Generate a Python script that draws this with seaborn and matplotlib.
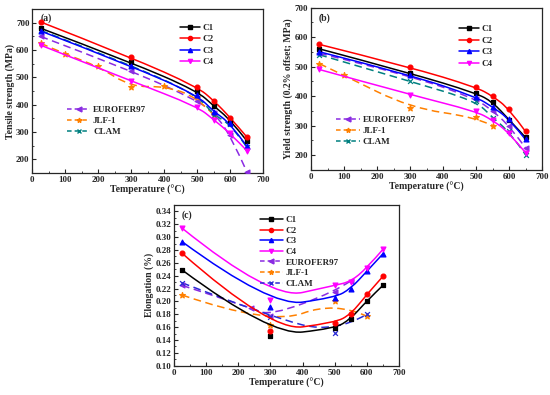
import numpy as np
import matplotlib
matplotlib.use("Agg")
import matplotlib.pyplot as plt
import seaborn as sns
from matplotlib.lines import Line2D
from matplotlib.path import Path
from matplotlib.patches import PathPatch
from matplotlib.ticker import MultipleLocator, FormatStrFormatter

# ---------------- data ----------------
T6 = [25, 300, 500, 550, 600, 650]

# (a) tensile strength (MPa)
ts_C1 = [680, 555, 450, 395, 345, 268]
ts_C2 = [703, 573, 465, 415, 353, 282]
ts_C3 = [670, 542, 435, 375, 332, 248]
ts_C4 = [618, 487, 393, 345, 295, 232]
ts_EUROFER97_T = [25, 300, 500, 550, 600, 650]
ts_EUROFER97 = [650, 525, 415, 370, 290, 155]
ts_JLF1_T = [25, 100, 200, 300, 400, 500, 550]
ts_JLF1 = [625, 585, 540, 465, 468, 428, 362]
ts_CLAM_T = [25, 300, 500, 550, 600, 650]
ts_CLAM = [672, 545, 435, 362, 330, 245]

# (b) yield strength (MPa)
ys_C1 = [560, 478, 410, 380, 320, 260]
ys_C2 = [575, 498, 430, 400, 357, 280]
ys_C3 = [550, 472, 397, 363, 323, 253]
ys_C4 = [490, 405, 348, 318, 276, 208]
ys_EUROFER97_T = [25, 300, 500, 550, 600, 650]
ys_EUROFER97 = [545, 470, 390, 350, 300, 225]
ys_JLF1_T = [25, 100, 300, 500, 550]
ys_JLF1 = [510, 470, 360, 328, 300]
ys_CLAM_T = [25, 300, 500, 550, 600, 650]
ys_CLAM = [540, 450, 383, 327, 280, 202]

# (c) elongation
el_C1 = [0.249, 0.147, 0.158, 0.173, 0.201, 0.225]
el_C2 = [0.275, 0.154, 0.167, 0.180, 0.211, 0.239]
el_C3 = [0.293, 0.192, 0.206, 0.220, 0.247, 0.274]
el_C4 = [0.314, 0.203, 0.225, 0.231, 0.252, 0.281]
el_EUROFER97_T = [25, 240, 300, 500, 550]
el_EUROFER97 = [0.225, 0.190, 0.178, 0.215, 0.232]
el_JLF1_T = [25, 300, 500, 600]
el_JLF1 = [0.210, 0.163, 0.200, 0.177]
el_CLAM_T = [25, 300, 500, 600]
el_CLAM = [0.229, 0.176, 0.151, 0.180]

names_C = ["C1", "C2", "C3", "C4"]
names_ref = ["EUROFER97", "JLF-1", "CLAM"]

# ---------------- style ----------------
sns.set_style("ticks")
plt.rcParams["font.family"] = ["Liberation Serif", "DejaVu Serif"]
plt.rcParams["font.weight"] = "bold"
plt.rcParams["axes.labelweight"] = "bold"
plt.rcParams["axes.linewidth"] = 0.9

col = {"C1": "#000000", "C2": "#ff0000", "C3": "#0000ff", "C4": "#ff00ff",
       "EUROFER97": "#8a2be2", "JLF-1": "#ff8000", "CLAM": "#008080"}
mk = {"C1": "s", "C2": "o", "C3": "^", "C4": "v",
      "EUROFER97": "<", "JLF-1": "*", "CLAM": "x"}

fig = plt.figure(figsize=(5.5, 3.95), dpi=100)
axA = fig.add_axes([0.0587, 0.562, 0.420, 0.415])
axB = fig.add_axes([0.5655, 0.570, 0.420, 0.411])
axC = fig.add_axes([0.3164, 0.074, 0.409, 0.407])


def draw(ax, x, y, name, ls, color=None, z=2):
    """Markers at the data points (seaborn) + B-spline connection (data used as control points)."""
    c = color or col[name]
    m = mk[name]
    pts = np.column_stack([np.asarray(x, float), np.asarray(y, float)])
    verts = [pts[0]]
    codes = [Path.MOVETO]
    n = len(pts)
    for i in range(1, n - 1):
        end = pts[-1] if i == n - 2 else (pts[i] + pts[i + 1]) / 2
        verts += [pts[i], end]
        codes += [Path.CURVE3, Path.CURVE3]
    linestyle = (0, (5, 3)) if ls == "--" else "-"
    ax.add_patch(PathPatch(Path(verts, codes), fill=False, edgecolor=c, lw=1.1,
                           linestyle=linestyle, zorder=z, capstyle="butt"))
    s = 18 if m == "*" else 12
    sns.scatterplot(x=pts[:, 0], y=pts[:, 1], ax=ax, color=c, marker=m, s=s,
                    edgecolor=c, linewidth=0.9, zorder=z + 1, legend=False)


def handle(name, ls, color=None):
    c = color or col[name]
    if ls == "--":
        return Line2D([], [], color=c, lw=1.1, ls="--", dashes=(3, 2), marker=mk[name], ms=3.5)
    return Line2D([], [], color=c, lw=1.1, ls="-", marker=mk[name], ms=3)


def style_axis(ax, ylim, ymaj, ymin, fmt=None):
    ax.set_xlim(0, 700)
    ax.set_ylim(*ylim)
    ax.xaxis.set_major_locator(MultipleLocator(100))
    ax.xaxis.set_minor_locator(MultipleLocator(50))
    ax.yaxis.set_major_locator(MultipleLocator(ymaj))
    ax.yaxis.set_minor_locator(MultipleLocator(ymin))
    if fmt:
        ax.yaxis.set_major_formatter(FormatStrFormatter(fmt))
    ax.tick_params(which="major", direction="in", length=3, width=0.8, labelsize=6.5, pad=2)
    ax.tick_params(which="minor", direction="in", length=1.5, width=0.6)
    for sp in ax.spines.values():
        sp.set_visible(True)
        sp.set_linewidth(0.9)
    ax.set_xlabel("Temperature (°C)", fontsize=7, labelpad=1)


# ---------------- (a) ----------------
draw(axA, ts_EUROFER97_T, ts_EUROFER97, "EUROFER97", "--")
draw(axA, ts_JLF1_T, ts_JLF1, "JLF-1", "--")
draw(axA, ts_CLAM_T, ts_CLAM, "CLAM", "--")
for n, y in zip(names_C, [ts_C1, ts_C2, ts_C3, ts_C4]):
    draw(axA, T6, y, n, "-", z=4)
style_axis(axA, (150, 750), 100, 50)
axA.set_ylabel("Tensile strength (MPa)", fontsize=7, labelpad=1)
axA.text(0.035, 0.975, "(a)", transform=axA.transAxes, fontsize=7, va="top")
legA1 = axA.legend([handle(n, "-") for n in names_C], names_C, loc="upper left",
                   bbox_to_anchor=(0.62, 0.94), frameon=False, fontsize=6.5,
                   handlelength=2.2, handletextpad=0.3, labelspacing=0.35, borderpad=0)
axA.add_artist(legA1)
axA.legend([handle(n, "--") for n in names_ref], names_ref, loc="upper left",
           bbox_to_anchor=(0.13, 0.44), frameon=False, fontsize=6.5,
           handlelength=2.6, handletextpad=0.3, labelspacing=0.3, borderpad=0)

# ---------------- (b) ----------------
draw(axB, ys_EUROFER97_T, ys_EUROFER97, "EUROFER97", "--")
draw(axB, ys_JLF1_T, ys_JLF1, "JLF-1", "--")
draw(axB, ys_CLAM_T, ys_CLAM, "CLAM", "--")
for n, y in zip(names_C, [ys_C1, ys_C2, ys_C3, ys_C4]):
    draw(axB, T6, y, n, "-", z=4)
style_axis(axB, (150, 700), 100, 50)
axB.set_ylabel("Yield strength (0.2% offset; MPa)", fontsize=7, labelpad=1)
axB.text(0.035, 0.965, "(b)", transform=axB.transAxes, fontsize=7, va="top")
legB1 = axB.legend([handle(n, "-") for n in names_C], names_C, loc="upper left",
                   bbox_to_anchor=(0.62, 0.92), frameon=False, fontsize=6.5,
                   handlelength=2.2, handletextpad=0.3, labelspacing=0.35, borderpad=0)
axB.add_artist(legB1)
axB.legend([handle(n, "--") for n in names_ref], names_ref, loc="upper left",
           bbox_to_anchor=(0.09, 0.36), frameon=False, fontsize=6.5,
           handlelength=2.6, handletextpad=0.3, labelspacing=0.3, borderpad=0)

# ---------------- (c) ----------------
for n, y in zip(names_C, [el_C1, el_C2, el_C3, el_C4]):
    draw(axC, T6, y, n, "-", z=4)
draw(axC, el_EUROFER97_T, el_EUROFER97, "EUROFER97", "--")
draw(axC, el_JLF1_T, el_JLF1, "JLF-1", "--")
draw(axC, el_CLAM_T, el_CLAM, "CLAM", "--", color="#2a2ad5")
style_axis(axC, (0.10, 0.35), 0.02, 0.01, fmt="%.2f")
axC.set_ylabel("Elongation (%)", fontsize=7, labelpad=1)
axC.text(0.035, 0.965, "(c)", transform=axC.transAxes, fontsize=7, va="top")
hC = [handle(n, "-") for n in names_C] + [handle("EUROFER97", "--"), handle("JLF-1", "--"),
                                         handle("CLAM", "--", color="#2a2ad5")]
axC.legend(hC, names_C + names_ref, loc="upper left", bbox_to_anchor=(0.36, 0.96),
           frameon=False, fontsize=6.5, handlelength=2.6, handletextpad=0.3,
           labelspacing=0.25, borderpad=0)

fig.savefig("out.png", dpi=100)
